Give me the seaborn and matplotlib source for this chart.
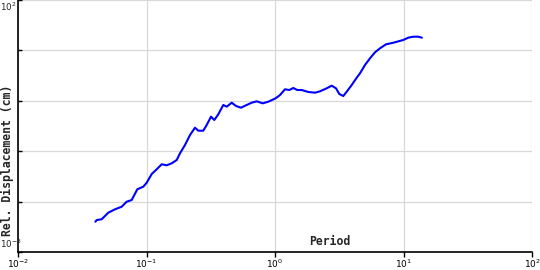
import matplotlib
matplotlib.use("Agg")
import matplotlib.pyplot as plt
import seaborn as sns
import pandas as pd

period = [0.0400, 0.0410, 0.0448, 0.0504, 0.0569, 0.0641, 0.0701, 0.0767, 0.0848, 0.0944,
          0.1004, 0.1098, 0.1201, 0.1313, 0.1436, 0.1571, 0.1718, 0.1823, 0.1993, 0.2181,
          0.2384, 0.2530, 0.2767, 0.2940, 0.3177, 0.3370, 0.3621, 0.3960, 0.4208, 0.4603,
          0.4971, 0.5437, 0.6023, 0.6588, 0.7205, 0.8023, 0.8868, 1.0125, 1.094, 1.196,
          1.292, 1.388, 1.491, 1.614, 1.816, 2.048, 2.239, 2.525, 2.762, 2.984,
          3.166, 3.401, 3.614, 3.953, 4.323, 4.586, 5.016, 5.487, 6.00, 6.56,
          7.31, 8.33, 9.96, 10.9, 11.9, 13.0, 13.9]
displacement = [0.00399, 0.00431, 0.00446, 0.00602, 0.00703, 0.00792, 0.00995, 0.01076, 0.01754, 0.01977,
                0.0237, 0.0353, 0.0438, 0.0550, 0.0525, 0.0575, 0.0668, 0.0908, 0.1327, 0.2096,
                0.2924, 0.2551, 0.2551, 0.3311, 0.4840, 0.416, 0.540, 0.826, 0.764, 0.917,
                0.789, 0.730, 0.826, 0.917, 0.977, 0.891, 0.959, 1.122, 1.303, 1.692,
                1.637, 1.795, 1.637, 1.637, 1.496, 1.448, 1.542, 1.770, 1.994, 1.770,
                1.364, 1.245, 1.516, 2.057, 2.873, 3.513, 5.13, 6.97, 9.16, 11.0,
                13.2, 14.2, 16.1, 17.9, 18.7, 18.7, 17.9]

x_ticks = [1e-2, 1e-1, 1e0, 1e1, 1e2]
x_tick_labels = [r"$10^{-2}$", r"$10^{-1}$", r"$10^{0}$", r"$10^{1}$", r"$10^{2}$"]
y_ticks = [1e-3, 1e-2, 1e-1, 1e0, 1e1, 1e2]
y_top_label = r"$10^{2}$"
y_bottom_label = r"$10^{-3}$"

df = pd.DataFrame({"Period": period, "Disp": displacement})

sns.set_style("ticks")
plt.rcParams["font.family"] = ["DejaVu Sans"]

fig = plt.figure(figsize=(5.4, 2.7), dpi=100)
ax = fig.add_axes([18 / 540, 18 / 270, 514 / 540, 252 / 270])

sns.lineplot(data=df, x="Period", y="Disp", ax=ax, color="#0000ff",
             linewidth=1.5, estimator=None, sort=False)

ax.set_xscale("log")
ax.set_yscale("log")
ax.set_xlim(1e-2, 1e2)
ax.set_ylim(1e-3, 1e2)
ax.minorticks_off()

ax.set_xticks(x_ticks)
ax.set_xticklabels(x_tick_labels)
ax.set_yticks(y_ticks)
ax.set_yticklabels([""] * len(y_ticks))

ax.grid(True, color="#d8d8d8", linewidth=0.9)
ax.set_axisbelow(True)

for s in ["top", "right"]:
    ax.spines[s].set_visible(False)
for s in ["left", "bottom"]:
    ax.spines[s].set_color("black")
    ax.spines[s].set_linewidth(1.2)

ax.tick_params(axis="x", direction="out", length=3.5, width=1, pad=0.5,
               labelsize=6.5, colors="black")
ax.tick_params(axis="y", direction="in", length=3, width=1, pad=0,
               labelsize=6.2, colors="black")

fig.text(0.5 / 540, 1 - 0.5 / 270, y_top_label, ha="left", va="top", fontsize=6.3)
fig.text(0.5 / 540, 20 / 270, y_bottom_label, ha="left", va="bottom", fontsize=6.3)

mono = {"family": "DejaVu Sans Mono", "weight": "bold", "size": 8.3}
ax.set_xlabel("Period", fontdict=mono)
ax.xaxis.set_label_coords(0.607, 0.04)
ax.xaxis.label.set_va("center")
ax.set_ylabel("Rel. Displacement (cm)", fontdict=mono)
ax.yaxis.set_label_coords(-0.021, 0.365)
ax.yaxis.label.set_va("center")

fig.savefig("out.png", dpi=100)
